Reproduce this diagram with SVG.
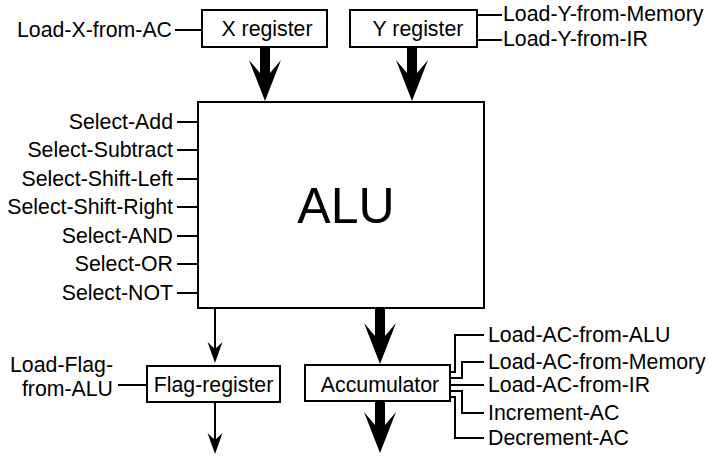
<svg xmlns="http://www.w3.org/2000/svg" width="708" height="457" viewBox="0 0 708 457">
<style>
  .box { fill: #fff; stroke: #000; stroke-width: 2; }
  .lbl { font-family: "Liberation Sans", Arial, sans-serif; font-size: 21.3px; fill: #000; }
  .big { font-family: "Liberation Sans", Arial, sans-serif; font-size: 50px; fill: #000; }
  .wire { fill: none; stroke: #000; stroke-width: 2; }
  .bus { fill: none; stroke: #000; stroke-width: 10; }
  .thin { fill: none; stroke: #000; stroke-width: 2; }
</style>
<defs>
  <marker id="thickHead" markerUnits="userSpaceOnUse" orient="auto" viewBox="-42 -17 43 34" refX="-27" refY="0" markerWidth="43" markerHeight="34">
    <path d="M0,0 L-41,-16 L-28,-5 L-28,5 L-41,16 Z" fill="#000"/>
  </marker>
  <marker id="thinHead" markerUnits="userSpaceOnUse" orient="auto" viewBox="-22 -9 23 18" refX="-13" refY="0" markerWidth="23" markerHeight="18">
    <path d="M0,0 L-21,-7.5 L-14,0 L-21,7.5 Z" fill="#000"/>
  </marker>
</defs>
<rect width="708" height="457" fill="#fff"/>

<g id="connectors">
  <line class="bus" x1="265" y1="47" x2="265" y2="74" marker-end="url(#thickHead)"/>
  <line class="bus" x1="412" y1="47" x2="412" y2="74" marker-end="url(#thickHead)"/>
  <line class="bus" x1="380" y1="308" x2="380" y2="337" marker-end="url(#thickHead)"/>
  <line class="bus" x1="380" y1="401" x2="380" y2="426" marker-end="url(#thickHead)"/>
  <line class="thin" x1="215" y1="308" x2="215" y2="350" marker-end="url(#thinHead)"/>
  <line class="thin" x1="215" y1="402" x2="215" y2="441" marker-end="url(#thinHead)"/>
  <line class="wire" x1="175" y1="30" x2="202" y2="30"/>
  <line class="wire" x1="477" y1="15" x2="502" y2="15"/>
  <line class="wire" x1="477" y1="40" x2="502" y2="40"/>
  <line class="wire" x1="177" y1="122" x2="198" y2="122"/>
  <line class="wire" x1="177" y1="150" x2="198" y2="150"/>
  <line class="wire" x1="177" y1="179" x2="198" y2="179"/>
  <line class="wire" x1="177" y1="207" x2="198" y2="207"/>
  <line class="wire" x1="177" y1="236" x2="198" y2="236"/>
  <line class="wire" x1="177" y1="264" x2="198" y2="264"/>
  <line class="wire" x1="177" y1="293" x2="198" y2="293"/>
  <line class="wire" x1="118" y1="385" x2="147" y2="385"/>
  <polyline class="wire" points="450,372 455,372 455,335 484,335"/>
  <polyline class="wire" points="450,378 462,378 462,362 484,362"/>
  <polyline class="wire" points="450,385 484,385"/>
  <polyline class="wire" points="450,391 462,391 462,413 484,413"/>
  <polyline class="wire" points="450,397 455,397 455,438 484,438"/>
</g>

<g id="x-register">
  <rect class="box" x="202" y="10" width="125" height="37"/>
  <text class="lbl" x="267" y="36" text-anchor="middle">X register</text>
</g>
<g id="y-register">
  <rect class="box" x="350" y="10" width="127" height="37"/>
  <text class="lbl" x="418" y="36" text-anchor="middle">Y register</text>
</g>
<g id="alu">
  <rect class="box" x="198" y="102" width="286" height="206"/>
  <text class="big" x="346" y="223" text-anchor="middle">ALU</text>
</g>
<g id="flag-register">
  <rect class="box" x="147" y="366" width="133" height="36"/>
  <text class="lbl" x="213.5" y="392" text-anchor="middle">Flag-register</text>
</g>
<g id="accumulator">
  <rect class="box" x="305" y="365" width="145" height="36"/>
  <text class="lbl" x="380" y="392" text-anchor="middle">Accumulator</text>
</g>

<g id="labels">
  <text class="lbl" x="172" y="36.5" text-anchor="end">Load-X-from-AC</text>
  <text class="lbl" x="503" y="21">Load-Y-from-Memory</text>
  <text class="lbl" x="503" y="46">Load-Y-from-IR</text>
  <text class="lbl" x="173" y="128.5" text-anchor="end">Select-Add</text>
  <text class="lbl" x="173" y="156.5" text-anchor="end">Select-Subtract</text>
  <text class="lbl" x="173" y="185.5" text-anchor="end">Select-Shift-Left</text>
  <text class="lbl" x="173" y="213.5" text-anchor="end">Select-Shift-Right</text>
  <text class="lbl" x="173" y="242.5" text-anchor="end">Select-AND</text>
  <text class="lbl" x="173" y="270.5" text-anchor="end">Select-OR</text>
  <text class="lbl" x="173" y="299.5" text-anchor="end">Select-NOT</text>
  <text class="lbl" x="113" y="372" text-anchor="end">Load-Flag-</text>
  <text class="lbl" x="113" y="395.5" text-anchor="end">from-ALU</text>
  <text class="lbl" x="488" y="342">Load-AC-from-ALU</text>
  <text class="lbl" x="488" y="369">Load-AC-from-Memory</text>
  <text class="lbl" x="488" y="392">Load-AC-from-IR</text>
  <text class="lbl" x="488" y="420">Increment-AC</text>
  <text class="lbl" x="488" y="445">Decrement-AC</text>
</g>
</svg>
